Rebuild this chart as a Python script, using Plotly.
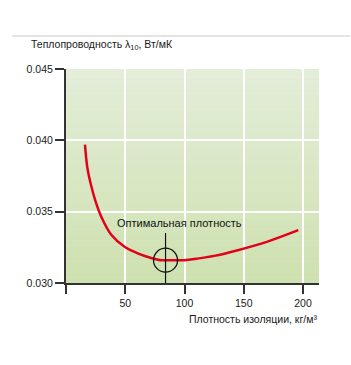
import plotly.graph_objects as go

# Data
density = [16, 18, 21, 25, 30, 38, 50, 60, 70, 80, 90, 100, 110, 125, 145, 170, 196]
conductivity = [0.0397, 0.0381, 0.0369, 0.0357, 0.0346, 0.0334, 0.0325, 0.0321,
                0.0318, 0.0316, 0.0316, 0.0316, 0.0317, 0.0319, 0.0323, 0.0329, 0.0337]
optimum_density = 84
optimum_conductivity = 0.0316
optimum_line_top = 0.0335
annotation_text = "Оптимальная плотность"
annotation_x = 96
annotation_y = 0.0342

x_ticks = [0, 50, 100, 150, 200]
x_ticklabels = ["", "50", "100", "150", "200"]
y_ticks = [0.030, 0.035, 0.040, 0.045]
y_ticklabels = ["0.030", "0.035", "0.040", "0.045"]

FONT = "Liberation Sans, Arial, sans-serif"
W, H = 351, 365
L, R, T, B = 66, 32, 69, 82
pw, ph = W - L - R, H - T - B

fig = go.Figure()

# background gradient strips (plot area)
top_c = (228, 237, 216)
bot_c = (206, 225, 176)
n = 40
shapes = []
for i in range(n):
    f = i / (n - 1)
    c = tuple(round(bot_c[k] + (top_c[k] - bot_c[k]) * f) for k in range(3))
    shapes.append(dict(type="rect", xref="x domain", yref="y domain",
                       x0=0, x1=1, y0=i / n, y1=(i + 1) / n,
                       fillcolor="rgb(%d,%d,%d)" % c, line=dict(width=0), layer="below"))
# top divider line
shapes.append(dict(type="line", xref="paper", yref="paper",
                   x0=(12 - L) / pw, x1=(350 - L) / pw,
                   y0=(H - B - 36) / ph, y1=(H - B - 36) / ph,
                   line=dict(color="#dcdcdc", width=1.5)))

fig.add_trace(go.Scatter(x=density, y=conductivity, mode="lines",
                         line=dict(color="#e2001a", width=2.5, shape="spline"),
                         hoverinfo="skip", showlegend=False))
fig.add_trace(go.Scatter(x=[optimum_density, optimum_density],
                         y=[y_ticks[0], optimum_line_top], mode="lines",
                         line=dict(color="#111111", width=1.2),
                         hoverinfo="skip", showlegend=False))
fig.add_trace(go.Scatter(x=[optimum_density], y=[optimum_conductivity], mode="markers",
                         marker=dict(symbol="circle-open", size=24,
                                     line=dict(color="#111111", width=1.3), color="#111111"),
                         hoverinfo="skip", showlegend=False))

annotations = [
    dict(x=annotation_x, y=annotation_y, xref="x", yref="y", text=annotation_text,
         showarrow=False, font=dict(family=FONT, size=11, color="#111111"),
         xanchor="center", yanchor="middle"),
    dict(x=1, y=0, xref="paper", yref="paper", text="Плотность изоляции, кг/м³",
         showarrow=False, font=dict(family=FONT, size=10.5, color="#1a1a1a"),
         xanchor="right", yanchor="middle", yshift=-36),
    dict(x=(29 - L) / pw, y=(H - B - 45) / ph, xref="paper", yref="paper",
         text="Теплопроводность λ<sub>10</sub>, Вт/мК",
         showarrow=False, font=dict(family=FONT, size=10.5, color="#1a1a1a"),
         xanchor="left", yanchor="middle"),
]

fig.update_layout(
    width=W, height=H,
    margin=dict(l=L, r=R, t=T, b=B, pad=0),
    paper_bgcolor="white", plot_bgcolor="rgb(218,231,198)",
    shapes=shapes, annotations=annotations,
    font=dict(family=FONT, size=10.5, color="#1a1a1a"),
    xaxis=dict(range=[0, 213.5], tickvals=x_ticks, ticktext=x_ticklabels,
               showgrid=True, gridcolor="white", gridwidth=1.5,
               zeroline=False, showline=True, linecolor="#333333", linewidth=2,
               ticks="outside", ticklen=9, tickwidth=1.5, tickcolor="#333333",
               tickfont=dict(family=FONT, size=10.5, color="#1a1a1a"), fixedrange=True),
    yaxis=dict(range=[0.030, 0.045], tickvals=y_ticks, ticktext=y_ticklabels,
               showgrid=True, gridcolor="white", gridwidth=1.5,
               zeroline=False, showline=True, linecolor="#333333", linewidth=2,
               ticks="outside", ticklen=9, tickwidth=1.5, tickcolor="#333333",
               tickfont=dict(family=FONT, size=10.5, color="#1a1a1a"), fixedrange=True),
)

fig.write_html("out.html", config={"displayModeBar": False})
